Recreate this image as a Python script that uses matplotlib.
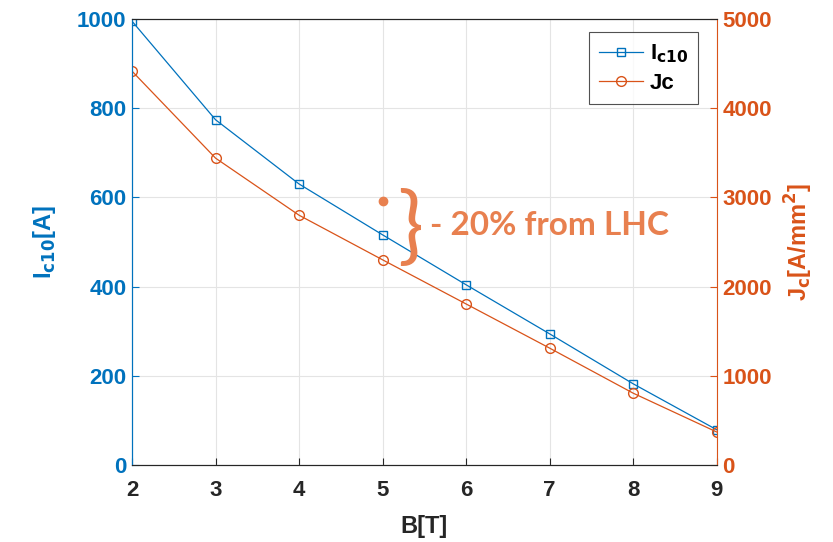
import matplotlib
matplotlib.use("Agg")
import matplotlib.pyplot as plt

# Field values and measured critical current / current density
b_field = [2, 3, 4, 5, 6, 7, 8, 9]
ic10 = [995, 774, 630, 516, 404, 294, 182, 79]
jc = [4415, 3440, 2800, 2300, 1805, 1310, 805, 370]
lhc_point = (5, 592)

blue = "#0072BD"
orange = "#D95319"
note_color = "#E8804F"

plt.rcParams["font.family"] = ["Liberation Sans", "DejaVu Sans"]
plt.rcParams["font.weight"] = "bold"
plt.rcParams["mathtext.default"] = "bf"

fig = plt.figure(figsize=(8.33, 5.42), dpi=100)
ax = fig.add_axes([0.1585, 0.142, 0.702, 0.823])
ax2 = ax.twinx()

l1, = ax.plot(b_field, ic10, "-s", color=blue, lw=0.9, ms=6, mfc="none", mew=1.0,
              label="I$_{\\mathbf{c10}}$")
l2, = ax2.plot(b_field, jc, "-o", color=orange, lw=0.9, ms=7, mfc="none", mew=1.0,
               label="Jc")

ax.set_xlim(2, 9)
ax.set_ylim(0, 1000)
ax2.set_ylim(0, 5000)
ax.set_xticks(b_field)
ax.set_yticks(range(0, 1001, 200))
ax2.set_yticks(range(0, 5001, 1000))

ax.grid(True, color="#E4E4E4", lw=0.8)
ax.set_axisbelow(True)

ax.tick_params(axis="both", direction="in", labelsize=16, length=5, width=0.8)
ax.tick_params(axis="x", pad=11, colors="#262626")
ax.tick_params(axis="y", colors=blue, pad=4)
ax2.tick_params(axis="y", direction="in", colors=orange, labelsize=16, length=5, width=0.8, pad=4)
for t in ax.get_xticklabels() + ax.get_yticklabels() + ax2.get_yticklabels():
    t.set_fontweight("bold")

for s in ["top", "bottom"]:
    ax.spines[s].set_color("#262626")
    ax2.spines[s].set_color("#262626")
ax.spines["left"].set_color(blue)
ax2.spines["left"].set_color(blue)
ax2.spines["right"].set_color(orange)
ax.spines["right"].set_visible(False)

ax.set_xlabel("B[T]", fontsize=17, fontweight="bold", color="#262626", labelpad=10)
ax.set_ylabel("I$_{\\mathbf{c10}}$[A]", fontsize=17, fontweight="bold", color=blue, labelpad=14)
ax2.set_ylabel("J$_{\\mathbf{c}}$[A/mm$^{\\mathbf{2}}$]", fontsize=17, fontweight="bold",
               color=orange, labelpad=8)

leg = ax2.legend(handles=[l1, l2], loc="upper right", bbox_to_anchor=(0.987, 0.995),
                 fontsize=16, frameon=True, fancybox=False, edgecolor="#262626",
                 handlelength=2.0, borderpad=0.45, labelspacing=0.35, handletextpad=0.3)
leg.get_frame().set_linewidth(0.8)
for t in leg.get_texts():
    t.set_fontweight("bold")

# LHC reference point and the reduction note
ax.plot(*lhc_point, "o", color=note_color, ms=6)
ax.text(5.33, 528, "}", fontsize=62, color=note_color, family="Lato", fontweight="normal",
        ha="center", va="center")
ax.text(5.57, 536, "- 20% from LHC", fontsize=24, color=note_color, family="Lato",
        fontweight="bold", ha="left", va="center")

fig.savefig("out.png", dpi=100)
